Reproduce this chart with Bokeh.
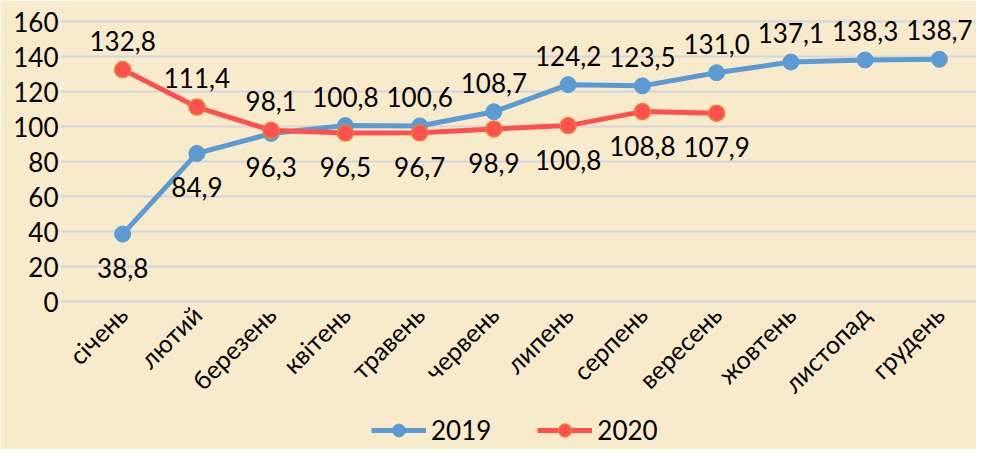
from bokeh.plotting import figure
from bokeh.models import ColumnDataSource, Range1d, FixedTicker, Legend, LegendItem
from bokeh.core.properties import value
from bokeh.embed import file_html
from bokeh.resources import INLINE
import math

months = ["січень", "лютий", "березень", "квітень", "травень", "червень",
          "липень", "серпень", "вересень", "жовтень", "листопад", "грудень"]
values_2019 = [38.8, 84.9, 96.3, 100.8, 100.6, 108.7, 124.2, 123.5, 131.0, 137.1, 138.3, 138.7]
values_2020 = [132.8, 111.4, 98.1, 96.5, 96.7, 98.9, 100.8, 108.8, 107.9]
y_ticks = [0, 20, 40, 60, 80, 100, 120, 140, 160]

FONT = "Lato"
BG = "#f8ebcb"
BLUE = "#5b9bd5"
RED = "#ff5050"
ORANGE = "#ed7d31"

# category positions on a numeric scale: month i sits at i + 0.5
pos = [i + 0.5 for i in range(len(months))]
x19 = pos[:len(values_2019)]
x20 = pos[:len(values_2020)]

p = figure(width=976, height=449, x_range=Range1d(-0.337, 12), y_range=Range1d(-84.3, 166),
           output_backend="svg", toolbar_location=None,
           min_border_left=60, min_border_right=0, min_border_top=11, min_border_bottom=0)
p.background_fill_color = BG
p.border_fill_color = BG
p.outline_line_color = None

p.xgrid.grid_line_color = None
p.ygrid.grid_line_color = "#d3d6dc"
p.ygrid.grid_line_width = 2
p.yaxis.ticker = FixedTicker(ticks=y_ticks)
p.xaxis.ticker = FixedTicker(ticks=pos)
p.xaxis.major_label_overrides = {x: m for x, m in zip(pos, months)}

for ax in (p.xaxis[0], p.yaxis[0]):
    ax.axis_line_color = None
    ax.major_tick_line_color = None
    ax.minor_tick_line_color = None
    ax.major_tick_out = 0
    ax.major_tick_in = 0
    ax.major_label_text_font = FONT
    ax.major_label_text_color = "#000000"
p.yaxis.major_label_text_font_size = "26px"
p.xaxis.major_label_text_font_size = "25px"
p.yaxis.major_label_standoff = 2
p.xaxis.major_label_standoff = 8
p.xaxis.major_label_orientation = math.pi / 4
p.xaxis.fixed_location = 0

l19 = p.line(x19, values_2019, line_color=BLUE, line_width=5)
s19 = p.scatter(x19, values_2019, size=16, fill_color=BLUE, line_color=BLUE, line_width=1)
l20 = p.line(x20, values_2020, line_color=RED, line_width=5)
s20 = p.scatter(x20, values_2020, size=16, fill_color=RED, line_color=ORANGE, line_width=1.5)


def fmt(v):
    return f"{v:.1f}".replace(".", ",")


def offsets(own, other):
    res = []
    for i, v in enumerate(own):
        if i < len(other) and v < other[i]:
            res.append(34)
        else:
            res.append(-29)
    return res


src19 = ColumnDataSource(dict(x=x19, y=values_2019, t=[fmt(v) for v in values_2019],
                              off=offsets(values_2019, values_2020)))
src20 = ColumnDataSource(dict(x=x20, y=values_2020, t=[fmt(v) for v in values_2020],
                              off=offsets(values_2020, values_2019)))
for src in (src19, src20):
    p.text(x="x", y="y", text="t", y_offset="off", source=src,
           text_align="center", text_baseline="middle",
           text_font=value(FONT), text_font_size="26px", text_color="#000000")

legend = Legend(items=[LegendItem(label="2019", renderers=[l19, s19]),
                       LegendItem(label="2020", renderers=[l20, s20])],
                orientation="horizontal", location=(311, 3))
legend.label_text_font = FONT
legend.label_text_font_size = "26px"
legend.label_text_color = "#000000"
legend.glyph_width = 55
legend.glyph_height = 32
legend.spacing = 46
legend.label_standoff = 5
legend.border_line_color = None
legend.background_fill_alpha = 0
legend.padding = 2
legend.margin = 0
p.add_layout(legend)

open("out.html", "w").write(file_html(p, INLINE))
